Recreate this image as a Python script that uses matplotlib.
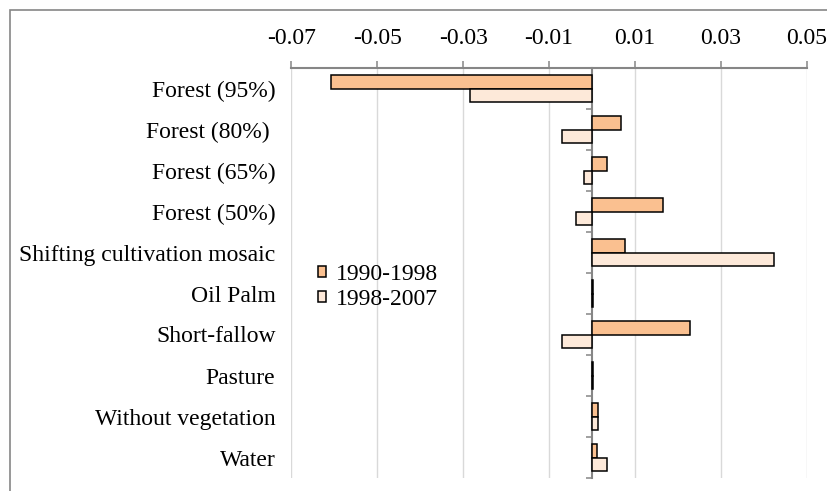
import matplotlib
matplotlib.use("Agg")
import matplotlib.pyplot as plt
import numpy as np
from matplotlib.patches import Rectangle

plt.rcParams['font.family'] = ['Liberation Serif', 'DejaVu Serif']
plt.rcParams['axes.unicode_minus'] = False

categories = ["Forest (95%)", "Forest (80%) ", "Forest (65%)", "Forest (50%)",
              "Shifting cultivation mosaic", "Oil Palm", "Short-fallow", "Pasture",
              "Without vegetation", "Water"]
s1990_1998 = [-0.0607, 0.0068, 0.0036, 0.0165, 0.0076, 0.0002, 0.0229, 0.0002, 0.0014, 0.0011]
s1998_2007 = [-0.0283, -0.0069, -0.0019, -0.0037, 0.0425, 0.0002, -0.0069, 0.0002, 0.0014, 0.0036]
series_names = ["1990-1998", "1998-2007"]
xticks = [-0.07, -0.05, -0.03, -0.01, 0.01, 0.03, 0.05]
xtick_labels = ["-0.07", "-0.05", "-0.03", "-0.01", "0.01", "0.03", "0.05"]

c1 = '#FAC090'
c2 = '#FDE9D9'
gray = '#868686'
grid = '#D9D9D9'
fs = 17

fig = plt.figure(figsize=(8.28, 4.91), dpi=100)
ax = fig.add_axes([291.4/828, 1-478/491, (806.7-291.4)/828, (478-68)/491])

y = np.arange(len(categories))
h = 0.32
ax.barh(y - h/2, s1990_1998, height=h, color=c1, edgecolor='black', linewidth=1.1, label=series_names[0], zorder=3)
ax.barh(y + h/2, s1998_2007, height=h, color=c2, edgecolor='black', linewidth=1.1, label=series_names[1], zorder=3)

ax.set_xlim(-0.07, 0.05)
ax.set_ylim(len(categories)-0.5, -0.5)

ax.xaxis.tick_top()
ax.set_xticks(xticks)
ax.set_xticklabels(xtick_labels, fontsize=fs)
ax.tick_params(axis='x', direction='out', length=5, width=1.1, color=gray, pad=9)
ax.grid(axis='x', color=grid, linewidth=1.0, zorder=0)
ax.set_axisbelow(True)

ax.set_yticks(y)
ax.set_yticklabels(categories, fontsize=fs)
ax.tick_params(axis='y', length=0, pad=11.5)

for s in ['right', 'bottom', 'left']:
    ax.spines[s].set_visible(False)
ax.spines['top'].set_color(gray)
ax.spines['top'].set_linewidth(1.5)

# vertical axis crossing at zero, with category boundary ticks
sec = ax.secondary_yaxis(0, transform=ax.transData)
sec.set_alignment('left')
sec.set_yticks(np.arange(len(categories)+1) - 0.5)
sec.set_yticklabels([])
sec.tick_params(axis='y', direction='out', length=4.5, width=1.1, color=gray)
sec.spines['left'].set_color(gray)
sec.spines['left'].set_linewidth(1.5)

leg = ax.legend(loc='upper left', bbox_to_anchor=(0.384, 0.462), bbox_transform=fig.transFigure,
                frameon=False, fontsize=fs, handlelength=0.34, handleheight=0.34,
                handletextpad=0.4, labelspacing=0.18, borderpad=0, borderaxespad=0)

fig.patches.append(Rectangle((10/828, -0.1), 1.2, 1 - 10/491 + 0.1, transform=fig.transFigure,
                             fill=False, edgecolor=gray, linewidth=1.2))

fig.savefig('out.png', dpi=100)
